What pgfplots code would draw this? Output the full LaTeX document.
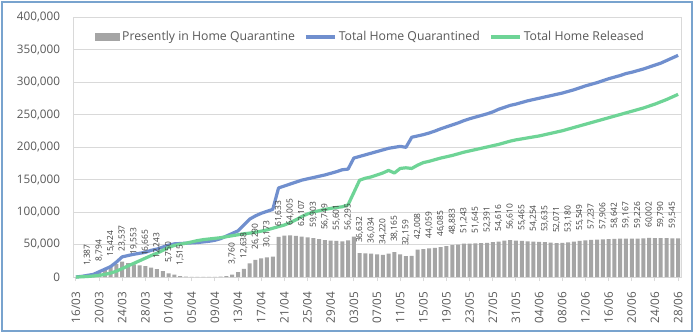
\documentclass[border=0pt]{standalone}
\usepackage{pgfplots}
\usepackage{pgfplotstable}
\pgfplotsset{compat=1.18}
\usepackage{fontspec}
\setmainfont{Open Sans}
\definecolor{qblue}{RGB}{112,143,206}
\definecolor{qgreen}{RGB}{110,212,150}
\definecolor{qgray}{RGB}{165,165,165}
\definecolor{frm}{RGB}{120,163,206}
\definecolor{txt}{RGB}{89,89,89}
\definecolor{lab}{RGB}{64,64,64}
\definecolor{gridc}{RGB}{217,217,217}

\pgfplotstableread{
d v lab
0 0 {}
1 400 {}
2 1387 {1,387}
3 4500 {}
4 8794 {8,794}
5 12000 {}
6 15424 {15,424}
7 20000 {}
8 23537 {23,537}
9 21500 {}
10 19553 {19,553}
11 18000 {}
12 16665 {16,665}
13 14500 {}
14 12243 {12,243}
15 9000 {}
16 5750 {5,750}
17 3500 {}
18 1515 {1,515}
19 600 {}
20 300 {}
21 300 {}
22 300 {}
23 300 {}
24 300 {}
25 400 {}
26 1200 {}
27 3760 {3,760}
28 7500 {}
29 12638 {12,638}
30 21000 {}
31 26290 {26,290}
32 28500 {}
33 30173 {30,173}
34 31500 {}
35 61633 {61,633}
36 63500 {}
37 64005 {64,005}
38 63200 {}
39 62107 {62,107}
40 61000 {}
41 59903 {59,903}
42 58300 {}
43 56749 {56,749}
44 56000 {}
45 55601 {55,601}
46 55000 {}
47 56295 {56,295}
48 62000 {}
49 36632 {36,632}
50 36300 {}
51 36034 {36,034}
52 35000 {}
53 34220 {34,220}
54 36000 {}
55 38165 {38,165}
56 35000 {}
57 32159 {32,159}
58 32500 {}
59 42008 {42,008}
60 43000 {}
61 44059 {44,059}
62 45000 {}
63 46085 {46,085}
64 47500 {}
65 48883 {48,883}
66 50000 {}
67 51243 {51,243}
68 51400 {}
69 51645 {51,645}
70 52000 {}
71 52391 {52,391}
72 53500 {}
73 54616 {54,616}
74 56000 {}
75 56610 {56,610}
76 56000 {}
77 55465 {55,465}
78 55000 {}
79 54254 {54,254}
80 54000 {}
81 53635 {53,635}
82 52800 {}
83 52071 {52,071}
84 52500 {}
85 53180 {53,180}
86 54500 {}
87 55549 {55,549}
88 56500 {}
89 57237 {57,237}
90 57500 {}
91 57906 {57,906}
92 58300 {}
93 58642 {58,642}
94 59000 {}
95 59167 {59,167}
96 59200 {}
97 59226 {59,226}
98 59600 {}
99 60002 {60,002}
100 59900 {}
101 59790 {59,790}
102 59700 {}
103 59545 {59,545}
104 59500 {}
}\barsdata

\pgfplotstableread{
d v
0 0
1 1000
2 2500
3 4000
4 8000
5 12000
6 16000
7 23000
8 31000
9 33000
10 35000
11 36500
12 38000
13 41000
14 43000
15 46000
16 49000
17 51000
18 51500
19 52000
20 52500
21 53000
22 54000
23 55000
24 56500
25 59000
26 63000
27 67000
28 71000
29 80000
30 89000
31 94000
32 98000
33 101000
34 104000
35 137000
36 140000
37 143000
38 146000
39 149000
40 151000
41 153000
42 155000
43 157000
44 159500
45 162000
46 165000
47 166000
48 183000
49 185500
50 188000
51 190500
52 193000
53 195500
54 198000
55 199500
56 201000
57 199500
58 215000
59 217000
60 219000
61 221500
62 224500
63 228000
64 231000
65 234000
66 237000
67 240500
68 243500
69 246000
70 248500
71 251000
72 254000
73 258000
74 261000
75 264000
76 266000
77 268500
78 271000
79 273000
80 275000
81 277000
82 279000
83 281000
84 283000
85 285500
86 288000
87 291000
88 294000
89 296500
90 299000
91 302000
92 305000
93 307500
94 310000
95 313000
96 315000
97 317500
98 320000
99 323000
100 326000
101 329000
102 333000
103 337000
104 341000
}\bluedata

\pgfplotstableread{
d v
0 0
1 300
2 800
3 1500
4 2500
5 4000
6 6000
7 9000
8 13000
9 17000
10 21000
11 25000
12 29000
13 33000
14 36500
15 41000
16 45500
17 48500
18 50500
19 52000
20 54000
21 56000
22 57500
23 58500
24 59500
25 60500
26 62000
27 63500
28 65000
29 66500
30 67500
31 69000
32 70500
33 72500
34 75000
35 77500
36 80000
37 83500
38 88000
39 93000
40 97000
41 100000
42 102000
43 104000
44 105500
45 107000
46 108000
47 111000
48 130000
49 149000
50 152000
51 154000
52 157000
53 160000
54 164000
55 160000
56 167000
57 168000
58 167000
59 172000
60 176000
61 178000
62 180500
63 183000
64 185000
65 187000
66 189500
67 192000
68 194000
69 196000
70 198000
71 200000
72 202000
73 204000
74 206500
75 209000
76 211000
77 212500
78 214000
79 215500
80 217000
81 219000
82 221000
83 223000
84 225000
85 227500
86 230000
87 232500
88 235000
89 237500
90 240000
91 242500
92 245000
93 247500
94 250000
95 252500
96 255000
97 257500
98 260000
99 263000
100 266000
101 269500
102 273000
103 277000
104 281000
}\greendata

\begin{document}
\begin{tikzpicture}
\useasboundingbox (0pt,0pt) rectangle (520.5pt,249.75pt);
\fill[white] (0pt,0pt) rectangle (520.5pt,249.75pt);
\draw[frm, line width=1.5pt] (1.5pt,1.5pt) rectangle (519pt,248.25pt);
\begin{axis}[
  at={(54.75pt,42pt)}, anchor=south west,
  width=456pt, height=195pt, scale only axis,
  xmin=-0.5, xmax=104.5, ymin=0, ymax=400000,
  /pgf/number format/assume math mode=true,
  font=\fontsize{8.8}{10}\selectfont,
  ytick={0,50000,...,400000},
  scaled y ticks=false,
  yticklabel style={/pgf/number format/fixed, /pgf/number format/1000 sep={,},
     text=txt, inner sep=0pt, xshift=-6.5pt},
  xtick={0,4,...,104},
  xticklabels={16/03,20/03,24/03,28/03,01/04,05/04,09/04,13/04,17/04,21/04,25/04,29/04,03/05,07/05,11/05,15/05,19/05,23/05,27/05,31/05,04/06,08/06,12/06,16/06,20/06,24/06,28/06},
  xticklabel style={rotate=90, anchor=east, text=txt, inner sep=0pt},
  xticklabel shift=8pt,
  ymajorgrids, grid style={gridc, line width=0.75pt},
  axis line style={gridc, line width=0.75pt},
  tick align=outside, xtick pos=bottom, ytick style={draw=none},
  xtick style={gridc, line width=0.75pt}, major tick length=3pt,
  clip=false,
  legend style={at={(axis description cs:0.036,0.923)}, anchor=west,
    draw=none, fill=none, inner sep=0pt, outer sep=0pt,
    font=\fontsize{9.2}{10}\selectfont, text=txt,
    legend columns=-1,
    nodes={inner sep=1.5pt},
    /tikz/every even column/.append style={column sep=5.5pt}},
  legend cell align=left,
]
\addplot[ybar, bar width=3pt, fill=qgray, draw=none,
  point meta=explicit symbolic,
  nodes near coords={\pgfplotspointmeta},
  nodes near coords style={rotate=90, anchor=west, inner sep=0pt, inner xsep=7.5pt,
     font=\fontsize{6.3}{7}\selectfont, text=lab},
  legend image code/.code={\fill[qgray] (0pt,-3pt) rectangle (19pt,3pt);}]
  table[x=d, y=v, meta=lab] {\barsdata};
\addlegendentry{Presently in Home Quarantine}
\addplot[qblue, line width=2.4pt, line join=round, mark=none,
  legend image code/.code={\draw[qblue, line width=2.4pt] (0pt,0pt) -- (22pt,0pt);}]
  table[x=d, y=v] {\bluedata};
\addlegendentry{Total Home Quarantined}
\addplot[qgreen, line width=2.4pt, line join=round, mark=none,
  legend image code/.code={\draw[qgreen, line width=2.4pt] (0pt,0pt) -- (22pt,0pt);}]
  table[x=d, y=v] {\greendata};
\addlegendentry{Total Home Released}
\end{axis}
\end{tikzpicture}
\end{document}
